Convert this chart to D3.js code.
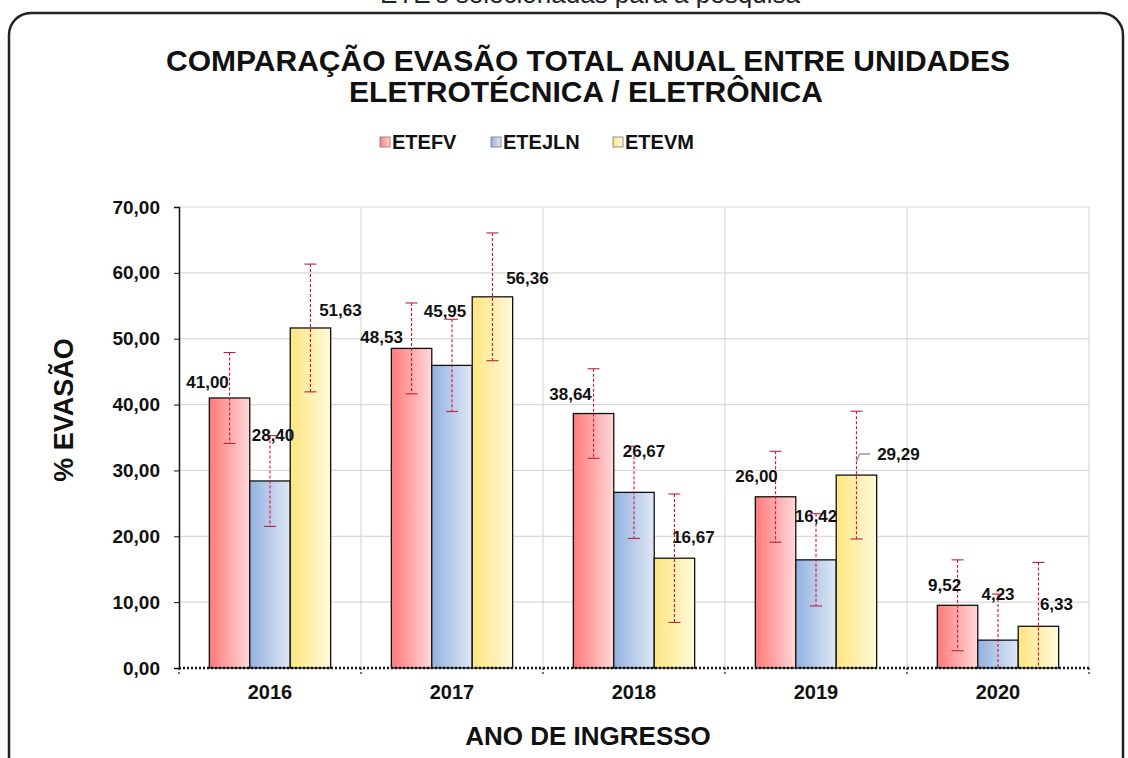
<!DOCTYPE html>
<html>
<head>
<meta charset="utf-8">
<script src="https://cdn.jsdelivr.net/npm/d3@7"></script>
<style>
body { margin: 0; background: #fff; }
text { font-family: "Liberation Sans", Arial, sans-serif; }
</style>
</head>
<body>
<div id="chart"></div>
<script>
// dados
var anos = ["2016", "2017", "2018", "2019", "2020"];
var unidades = ["ETEFV", "ETEJLN", "ETEVM"];
var etefv = [41.00, 48.53, 38.64, 26.00, 9.52];
var etejln = [28.40, 45.95, 26.67, 16.42, 4.23];
var etevm = [51.63, 56.36, 16.67, 29.29, 6.33];
// barras de erro (+/-)
var errEtefv = [6.9, 6.9, 6.8, 6.9, 6.9];
var errEtejln = [6.9, 7.0, 7.0, 7.0, 7.0];
var errEtevm = [9.7, 9.7, 9.75, 9.7, 9.7];
var yTicks = [0, 10, 20, 30, 40, 50, 60, 70];

// deslocamento manual dos rotulos (como no Excel)
var lblDx = [[-22, 3, 30], [-30, -7, 35], [-23, 10, 19], [-19, 0, 42], [-13, 0, 18]];
var lblDy = [[-16, -46, -18], [-12, -55, -19], [-20, -41, -21], [-21, -44, -21], [-20, -46, -22]];

var W = 1128, H = 758;
var pLeft = 179, pRight = 1089, pTop = 207, pBottom = 668;

var cores = {
	ETEFV: ["#ff7a7a", "#ffd8d8"],
	ETEJLN: ["#93b1df", "#dfe8f6"],
	ETEVM: ["#ffe680", "#fff8da"]
};

var valores = { ETEFV: etefv, ETEJLN: etejln, ETEVM: etevm };
var erros = { ETEFV: errEtefv, ETEJLN: errEtejln, ETEVM: errEtevm };

var fmt = d3.formatLocale({ decimal: ",", thousands: ".", grouping: [3], currency: ["R$", ""] }).format(".2f");

var svg = d3.select("#chart").append("svg").attr("width", W).attr("height", H);

var defs = svg.append("defs");
unidades.forEach(function(u, i) {
	var g = defs.append("linearGradient").attr("id", "grad" + i)
		.attr("x1", "0%").attr("x2", "100%").attr("y1", "0%").attr("y2", "0%");
	g.append("stop").attr("offset", "0%").attr("stop-color", cores[u][0]);
	g.append("stop").attr("offset", "100%").attr("stop-color", cores[u][1]);
});

// texto cortado no topo
svg.append("text").attr("x", 590).attr("y", 3).attr("text-anchor", "middle")
	.style("font-size", "26px").style("fill", "#222")
	.text("ETE's selecionadas para a pesquisa");

// moldura
svg.append("rect").attr("x", 9).attr("y", 13).attr("width", 1114).attr("height", 780)
	.attr("rx", 22).attr("fill", "none").attr("stroke", "#222").attr("stroke-width", 2.5);

// titulo
svg.append("text").attr("x", 588).attr("y", 71).attr("text-anchor", "middle")
	.style("font-size", "30px").style("font-weight", "bold").style("fill", "#111")
	.text("COMPARAÇÃO EVASÃO TOTAL ANUAL ENTRE UNIDADES");
svg.append("text").attr("x", 586).attr("y", 102).attr("text-anchor", "middle")
	.style("font-size", "30px").style("font-weight", "bold").style("fill", "#111")
	.text("ELETROTÉCNICA / ELETRÔNICA");

// legenda
var legX = [380, 491, 613];
var leg = svg.append("g");
unidades.forEach(function(u, i) {
	leg.append("rect").attr("x", legX[i]).attr("y", 137).attr("width", 10).attr("height", 10)
		.attr("fill", "url(#grad" + i + ")").attr("stroke", "#777").attr("stroke-width", 0.8);
	leg.append("text").attr("x", legX[i] + 12).attr("y", 149)
		.style("font-size", "20px").style("font-weight", "bold").style("fill", "#111")
		.text(u);
});

var x = d3.scaleBand().domain(anos).range([pLeft, pRight]).padding(0);
var bw = x.bandwidth();
var x1 = d3.scaleBand().domain(unidades).range([bw / 6, bw * 5 / 6]).padding(0);
var y = d3.scaleLinear().domain([0, 70]).range([pBottom, pTop]);

var plot = svg.append("g");

// grade
plot.selectAll(".gh").data(yTicks.slice(1)).enter().append("line")
	.attr("x1", pLeft).attr("x2", pRight)
	.attr("y1", function(d) { return y(d); }).attr("y2", function(d) { return y(d); })
	.attr("stroke", "#d9d9d9").attr("stroke-width", 1.2);
plot.selectAll(".gv").data(anos).enter().append("line")
	.attr("x1", function(d) { return x(d) + bw; })
	.attr("x2", function(d) { return x(d) + bw; })
	.attr("y1", pTop).attr("y2", pBottom)
	.attr("stroke", "#d9d9d9").attr("stroke-width", 1.2);

// barras
var grupos = plot.selectAll(".ano").data(anos).enter().append("g")
	.attr("transform", function(d) { return "translate(" + x(d) + ",0)"; });

unidades.forEach(function(u, si) {
	grupos.append("rect")
		.attr("x", x1(u))
		.attr("width", x1.bandwidth())
		.attr("y", function(d, i) { return y(valores[u][i]); })
		.attr("height", function(d, i) { return pBottom - y(valores[u][i]); })
		.attr("fill", "url(#grad" + si + ")")
		.attr("stroke", "#111").attr("stroke-width", 1.3);
});

// barras de erro
unidades.forEach(function(u, si) {
	var cx = x1(u) + x1.bandwidth() / 2;
	grupos.append("line")
		.attr("x1", cx).attr("x2", cx)
		.attr("y1", function(d, i) { return y(valores[u][i] + erros[u][i]); })
		.attr("y2", function(d, i) { return y(Math.max(0, valores[u][i] - erros[u][i])); })
		.attr("stroke", "#e0102a").attr("stroke-width", 1.1).attr("stroke-dasharray", "3,2");
	grupos.append("line")
		.attr("x1", cx - 6).attr("x2", cx + 6)
		.attr("y1", function(d, i) { return y(valores[u][i] + erros[u][i]); })
		.attr("y2", function(d, i) { return y(valores[u][i] + erros[u][i]); })
		.attr("stroke", "#c0203a").attr("stroke-width", 1.1);
	grupos.filter(function(d, i) { return valores[u][i] - erros[u][i] > 0; }).append("line")
		.attr("x1", cx - 6).attr("x2", cx + 6)
		.attr("y1", function(d) { var i = anos.indexOf(d); return y(valores[u][i] - erros[u][i]); })
		.attr("y2", function(d) { var i = anos.indexOf(d); return y(valores[u][i] - erros[u][i]); })
		.attr("stroke", "#c0203a").attr("stroke-width", 1.1);
});

// linha de chamada do rotulo 29,29
var i19 = anos.indexOf("2019");
var cx19 = x(anos[i19]) + x1("ETEVM") + x1.bandwidth() / 2;
var ty19 = y(etevm[i19]) + lblDy[i19][2];
svg.append("polyline")
	.attr("points", [[cx19, ty19 + 8], [cx19 + 3, ty19], [cx19 + 14, ty19]].join(" "))
	.attr("fill", "none").attr("stroke", "#999").attr("stroke-width", 1.5);

// rotulos
unidades.forEach(function(u, si) {
	var cx = x1(u) + x1.bandwidth() / 2;
	grupos.append("text")
		.attr("x", function(d, i) { return cx + lblDx[i][si]; })
		.attr("y", function(d, i) { return y(valores[u][i]) + lblDy[i][si]; })
		.attr("dy", "0.36em")
		.attr("text-anchor", "middle")
		.style("font-size", "17px").style("font-weight", "bold").style("fill", "#111")
		.text(function(d, i) { return fmt(valores[u][i]); });
});

// eixo y
var yAxis = d3.axisLeft(y).tickValues(yTicks).tickSize(5).tickPadding(14).tickFormat(fmt);
var gy = svg.append("g").attr("transform", "translate(" + pLeft + ",0)").call(yAxis);
gy.select(".domain").attr("stroke", "#111").attr("stroke-width", 1.5);
gy.selectAll(".tick line").attr("stroke", "#111");
gy.selectAll(".tick text").style("font-size", "19px").style("font-weight", "bold")
	.style("font-family", "Liberation Sans, Arial, sans-serif").attr("fill", "#111");

// eixo x
var xAxis = d3.axisBottom(x).tickSize(0).tickPadding(17);
var gx = svg.append("g").attr("transform", "translate(0," + pBottom + ")").call(xAxis);
gx.select(".domain").remove();
gx.selectAll(".tick text").style("font-size", "20px").style("font-weight", "bold")
	.style("font-family", "Liberation Sans, Arial, sans-serif").attr("fill", "#111");
svg.append("line").attr("x1", pLeft).attr("x2", pRight).attr("y1", pBottom).attr("y2", pBottom)
	.attr("stroke", "#111").attr("stroke-width", 2.5).attr("stroke-dasharray", "2,2");
svg.selectAll(".xt").data(d3.range(anos.length + 1)).enter().append("line")
	.attr("x1", function(d) { return pLeft + bw * d; }).attr("x2", function(d) { return pLeft + bw * d; })
	.attr("y1", pBottom).attr("y2", pBottom + 6)
	.attr("stroke", "#111").attr("stroke-width", 1.2).attr("stroke-dasharray", "2,2");

// titulos dos eixos
svg.append("text").attr("transform", "translate(73,410) rotate(-90)").attr("text-anchor", "middle")
	.style("font-size", "27px").style("font-weight", "bold").style("fill", "#111")
	.text("% EVASÃO");
svg.append("text").attr("x", 588).attr("y", 745).attr("text-anchor", "middle")
	.style("font-size", "26px").style("font-weight", "bold").style("fill", "#111")
	.text("ANO DE INGRESSO");
</script>
</body>
</html>
